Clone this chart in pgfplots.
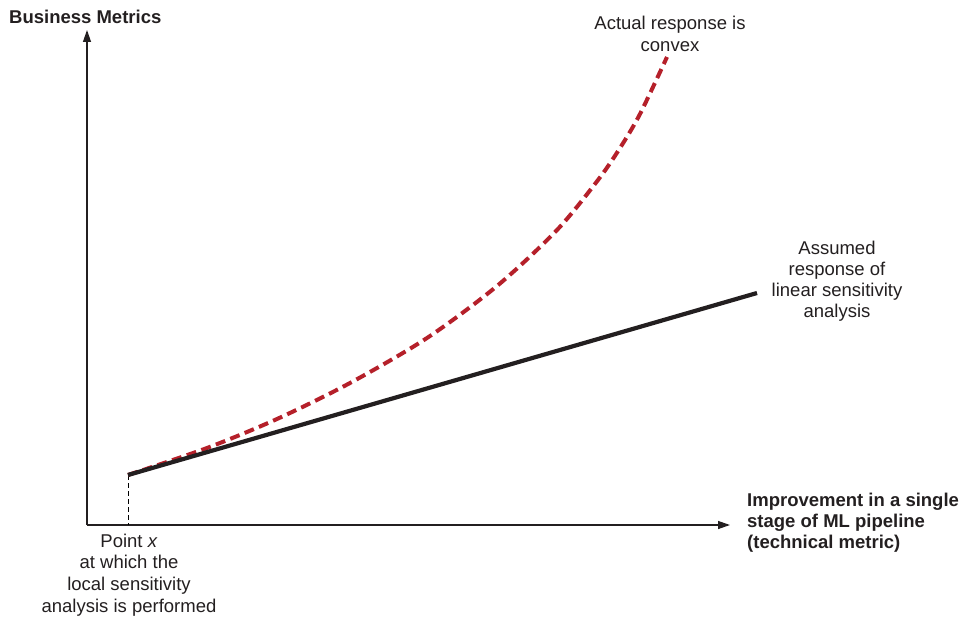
\documentclass[border=0pt]{standalone}
\usepackage{pgfplots}
\pgfplotsset{compat=1.18}
\usepackage{fontspec}
\setmainfont{Liberation Sans}
\usetikzlibrary{arrows.meta}
\definecolor{curvered}{HTML}{B5202A}
\definecolor{txt}{HTML}{231F20}
\begin{document}
\begin{tikzpicture}
\begin{axis}[
 x=1pt, y=1pt,
 xmin=87, xmax=730, ymin=94, ymax=589,
 axis lines=left,
 axis line style={line width=1.3pt, txt, -{Triangle[length=12pt,width=8pt]}},
 ticks=none,
 clip=false,
]
\path (axis cs:0,0) rectangle (axis cs:966,619);
\addplot[black, dash pattern=on 5pt off 3pt, line width=0.8pt] coordinates {(128,144) (128,94)};
\addplot[curvered, line width=4pt, dash pattern=on 10pt off 5.5pt, smooth, tension=0.5] coordinates {
(128,144) (207,171) (277,200) (350,236) (427,281) (497,333) (557,389) (598,439) (620,471) (640,505) (667,562)};
\addplot[txt, line width=4.2pt] coordinates {(128,144) (757,326)};
\node[font=\bfseries\fontsize{18.5}{22}\selectfont, anchor=west, text=txt, inner sep=0pt] at (axis cs:9,602) {Business Metrics};
\node[font=\fontsize{18.5}{22.5}\selectfont, align=center, text=txt, inner sep=0pt] at (axis cs:670,585) {Actual response is\\convex};
\node[font=\fontsize{18.5}{21}\selectfont, align=center, text=txt, inner sep=0pt] at (axis cs:837,338) {Assumed\\response of\\linear sensitivity\\analysis};
\node[font=\bfseries\fontsize{18.5}{21}\selectfont, align=left, anchor=west, text=txt, inner sep=0pt] at (axis cs:747,96) {Improvement in a single\\stage of ML pipeline\\(technical metric)};
\node[font=\fontsize{18.5}{21.7}\selectfont, align=center, text=txt, inner sep=0pt] at (axis cs:129,44) {Point \textit{x}\\at which the\\local sensitivity\\analysis is performed};
\end{axis}
\end{tikzpicture}
\end{document}
